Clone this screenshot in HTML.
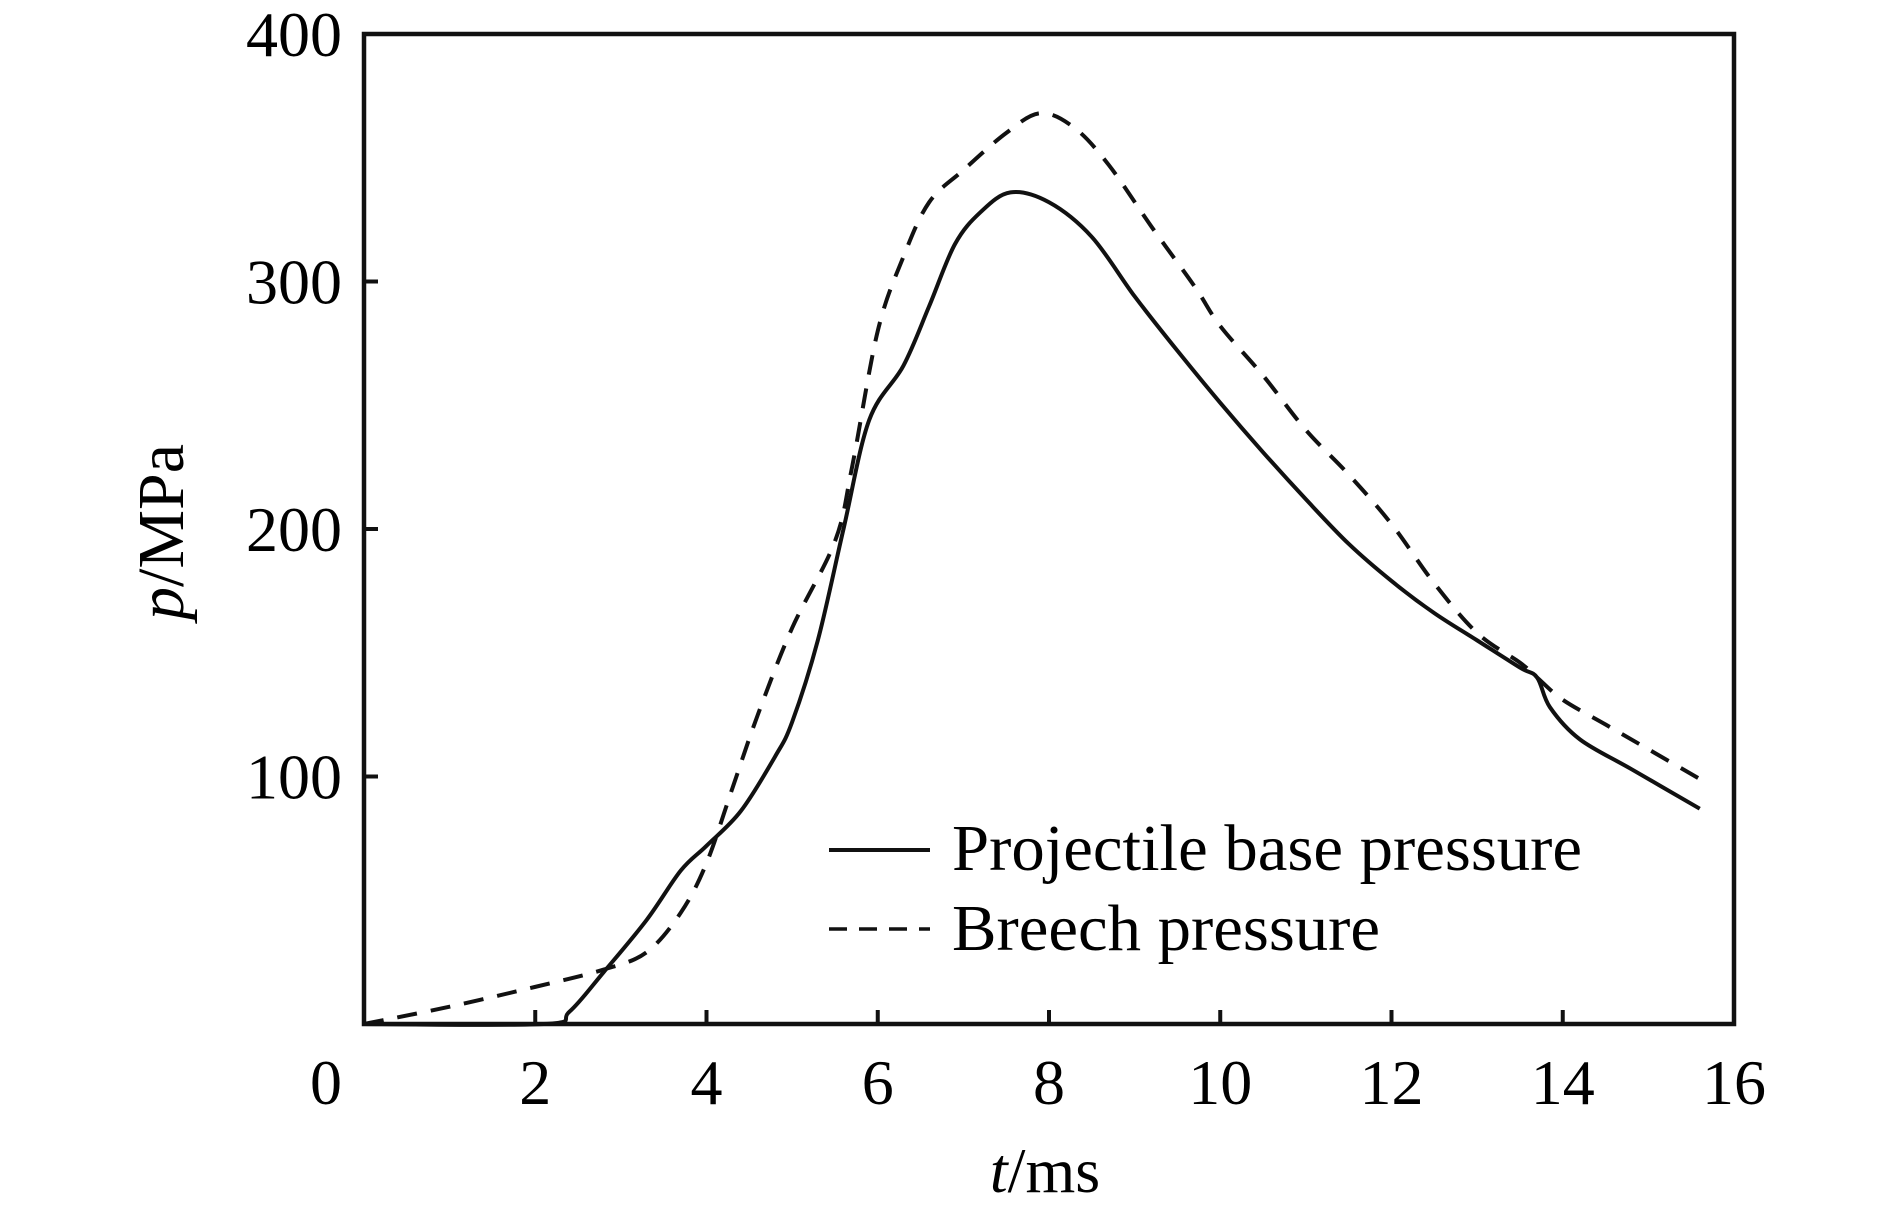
<!DOCTYPE html>
<html><head><meta charset="utf-8"><style>
body{margin:0;background:#fff}
svg{display:block;font-family:"Liberation Serif",serif}
</style></head><body>
<svg id="chart" width="1890" height="1209" viewBox="0 0 1890 1209" xmlns="http://www.w3.org/2000/svg">
<g id="marks"></g>
<rect x="364" y="34" width="1370" height="990" fill="none" stroke="#111" stroke-width="4.5"/>
<g id="ticks"></g>
<text x="1045" y="1192" font-size="64" text-anchor="middle"><tspan font-style="italic">t</tspan>/ms</text>
<text transform="translate(183,532) rotate(-90)" font-size="66" text-anchor="middle"><tspan font-style="italic">p</tspan>/MPa</text>
<g>
<line x1="829" y1="850" x2="930" y2="850" stroke="#111" stroke-width="4"/>
<text x="952" y="870" font-size="66" textLength="630" lengthAdjust="spacingAndGlyphs">Projectile base pressure</text>
<line x1="829" y1="929" x2="930" y2="929" stroke="#111" stroke-width="3.5" stroke-dasharray="18,12"/>
<text x="952" y="950" font-size="66" textLength="428" lengthAdjust="spacingAndGlyphs">Breech pressure</text>
</g>
</svg>
<script>
const xTicks=[0,2,4,6,8,10,12,14,16];
const yTicks=[100,200,300,400];
const solidT=[0,2.1,2.4,2.8,3.3,3.7,4.0,4.4,4.8,5.0,5.3,5.6,5.9,6.3,6.6,6.9,7.2,7.55,8.0,8.5,9.0,9.5,10,10.5,11,11.5,12,12.5,13,13.5,13.7,13.85,14.2,14.8,15.6];
const solidP=[0,0,5,21,42,62,72,86,108,122,155,200,244,266,290,315,328,336,332,318,294,272,251,231,212,194,179,166,155,144,140,128,115,103,87];
const dashT=[0,1,2,2.8,3.3,3.7,4.0,4.3,4.6,5.0,5.5,5.7,6.0,6.3,6.6,7.0,7.5,7.9,8.3,8.7,9.2,9.7,10,10.5,11,11.5,12,12.5,13,13.5,13.7,14,14.5,15,15.6];
const dashP=[0,7,15,22,29,45,65,95,125,160,195,225,280,310,332,345,360,368,362,347,322,298,282,262,240,222,202,178,158,146,140,131,121,111,99];
const X0=364,X1=1734,Y0=1024,Y1=34;
const sx=t=>X0+(t/16)*(X1-X0);
const sy=p=>Y0-(p/400)*(Y0-Y1);
const NS="http://www.w3.org/2000/svg";
const marks=document.getElementById('marks'),ticks=document.getElementById('ticks');
function mk(tag,attrs,parent){const e=document.createElementNS(NS,tag);for(const k in attrs)e.setAttribute(k,attrs[k]);parent.appendChild(e);return e;}
function smoothPath(T,P){
  const pts=T.map((t,i)=>[sx(t),sy(P[i])]);
  let d="M"+pts[0][0]+","+pts[0][1];
  for(let i=0;i<pts.length-1;i++){
    const p0=pts[i-1]||pts[i],p1=pts[i],p2=pts[i+1],p3=pts[i+2]||p2;
    const c1=[p1[0]+(p2[0]-p0[0])/6,p1[1]+(p2[1]-p0[1])/6];
    const c2=[p2[0]-(p3[0]-p1[0])/6,p2[1]-(p3[1]-p1[1])/6];
    d+=" C"+c1+" "+c2+" "+p2;
  }
  return d;
}
const s=mk('path',{d:smoothPath(solidT,solidP),fill:'none',stroke:'#111','stroke-width':4},marks);


const b=mk('path',{d:smoothPath(dashT,dashP),fill:'none',stroke:'#111','stroke-width':4,'stroke-dasharray':'20,14'},marks);


xTicks.forEach(t=>{
  if(t>0&&t<16){const l=mk('line',{x1:sx(t),x2:sx(t),y1:Y0,y2:Y0-14,stroke:'#111','stroke-width':4},ticks);
  
  }
  const tx=mk('text',{x:sx(t)-(t===0?38:0),y:1104,'font-size':64,'text-anchor':'middle'},ticks);
  tx.textContent=t;
  
  
});
yTicks.forEach(p=>{
  if(p<400){const l=mk('line',{x1:X0,x2:X0+14,y1:sy(p),y2:sy(p),stroke:'#111','stroke-width':4},ticks);
  
  }
  const tx=mk('text',{x:342,y:sy(p)+22,'font-size':64,'text-anchor':'end'},ticks);
  tx.textContent=p;
  
  
});
</script>
</body></html>
